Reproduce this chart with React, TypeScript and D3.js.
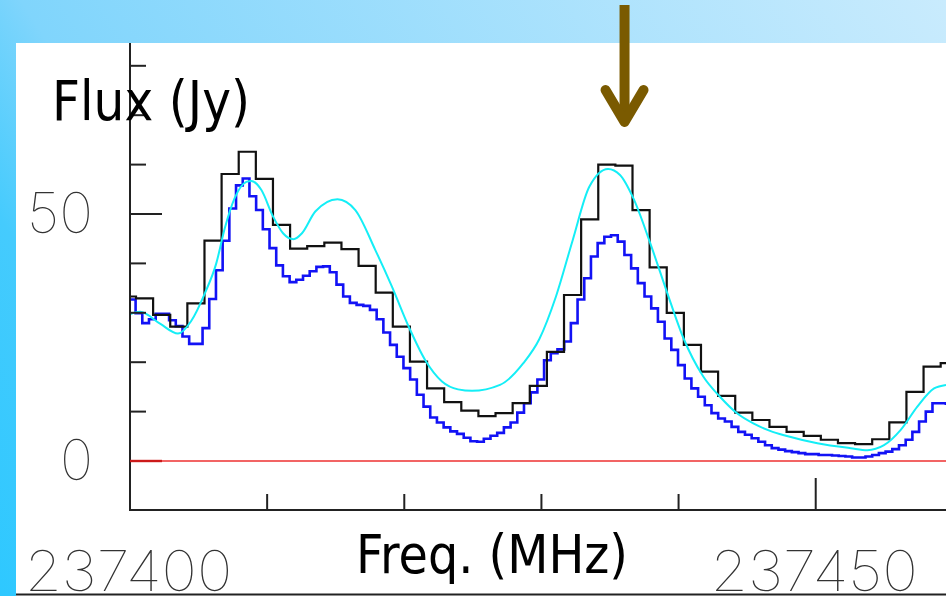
import React from 'react';
import * as d3 from 'd3';

const W = 946;
const H = 596;

// Coarse channels (black histogram): centre of first channel and width, MHz
const blackStart = 237399.813;
const blackWidth = 1.2484;
const blackFlux = [
  33.3, 32.9, 29.6, 27.2, 31.9, 44.6, 58.1, 62.6, 57.1, 47.8,
  43.0, 43.5, 44.2, 42.9, 39.5, 34.1, 27.2, 20.1, 14.7, 11.9,
  10.2, 9.1, 9.7, 11.7, 15.2, 22.1, 33.6, 48.9, 60.0, 59.8,
  50.8, 39.2, 30.0, 23.5, 18.1, 13.2, 9.8, 8.3, 6.9, 5.9,
  5.1, 4.3, 3.6, 3.4, 4.4, 7.8, 14.0, 19.1, 19.8,
];

// Fine channels (blue histogram)
const blueStart = 237400.164;
const blueWidth = 0.48828;
const blueFlux = [
  32.7, 29.9, 27.9, 28.7, 29.8, 29.8, 28.5, 27.3, 25.2, 23.7,
  23.7, 26.9, 32.8, 38.6, 44.6, 51.1, 55.8, 57.2, 53.6, 50.8,
  46.9, 43.1, 39.6, 37.4, 36.2, 36.7, 37.5, 38.4, 39.3, 39.4,
  38.2, 35.7, 33.3, 32.0, 31.6, 31.4, 30.6, 28.7, 26.0, 23.5,
  21.1, 18.8, 16.5, 13.4, 11.0, 8.8, 7.8, 6.8, 6.0, 5.5,
  4.7, 4.0, 3.9, 4.5, 5.1, 5.7, 6.8, 7.8, 9.8, 11.7,
  13.9, 16.5, 20.4, 21.8, 22.6, 24.2, 27.9, 32.7, 37.0, 41.4,
  44.1, 45.4, 45.7, 44.4, 41.7, 39.0, 36.0, 33.3, 30.9, 28.2,
  24.8, 22.5, 19.4, 16.7, 14.7, 13.0, 11.3, 9.7, 8.6, 8.0,
  6.9, 5.9, 5.3, 4.6, 3.9, 3.2, 2.6, 2.3, 2.0, 1.8,
  1.6, 1.4, 1.4, 1.2, 1.2, 1.1, 1.0, 0.9, 0.7, 0.7,
  0.9, 1.2, 1.6, 1.9, 2.4, 3.2, 4.3, 5.9, 8.0, 10.0,
  11.7, 11.7, 11.6,
];

// Smooth model spectrum (cyan)
const modelFreq = [
  237400.00, 237400.73, 237402.19, 237403.50, 237404.45, 237405.45, 237406.29,
  237406.91, 237407.63, 237408.48, 237408.85, 237409.57, 237410.43, 237411.16,
  237411.92, 237412.54, 237413.51, 237415.13, 237416.43, 237417.89, 237419.10,
  237420.32, 237421.53, 237422.75, 237423.92, 237424.94, 237426.98, 237428.68,
  237429.85, 237431.06, 237432.28, 237433.49, 237434.86, 237435.73, 237436.70,
  237437.92, 237439.14, 237440.35, 237441.80, 237443.02, 237444.24, 237445.45,
  237446.67, 237447.83, 237450.12, 237452.55, 237453.76, 237454.98, 237456.20,
  237457.41, 237458.63, 237459.50,
];
const modelFlux = [
  29.7, 30.2, 27.8, 25.8, 28.3, 33.9, 40.0,
  47.1, 53.2, 56.5, 56.7, 54.9, 49.5, 46.1,
  44.9, 46.1, 50.5, 53.0, 50.8, 42.7, 35.3,
  27.2, 20.4, 16.1, 14.5, 14.2, 15.4, 19.8,
  24.7, 33.3, 44.7, 55.5, 59.1, 57.9, 53.2,
  44.2, 34.3, 24.9, 17.1, 13.0, 9.7, 7.6,
  6.1, 5.1, 3.6, 2.6, 2.2, 3.2, 6.3,
  11.0, 14.7, 15.4,
];

const yTicks = [0, 10, 20, 30, 40, 50, 60, 70, 80];
const yMajor = [0, 50];
const xTicks = [237400, 237410, 237420, 237430, 237440, 237450];
const xMajor = [237400, 237450];

const plotLeft = 130;
const plotRight = 946;
const plotTop = 43;
const plotBottom = 510;

const x = d3.scaleLinear().domain([237400, 237459.5]).range([plotLeft, plotRight]);
const y = d3.scaleLinear().domain([0, 50]).range([461, 214]);

function stepPath(start: number, width: number, values: number[]): string {
  const pts: [number, number][] = values.map((v, i) => [start - width / 2 + i * width, v]);
  pts.push([start - width / 2 + values.length * width, values[values.length - 1]]);
  const line = d3
    .line<[number, number]>()
    .x((d) => x(d[0]))
    .y((d) => y(d[1]))
    .curve(d3.curveStepAfter);
  return line(pts) || '';
}

const modelLine = d3
  .line<number>()
  .x((_, i) => x(modelFreq[i]))
  .y((d) => y(d))
  .curve(d3.curveMonotoneX);

const numFont = 'Inter, Lato, "DejaVu Sans", sans-serif';
const titleFont = '"DejaVu Sans", Verdana, sans-serif';

// approximate rendered width of a numeric label (px per digit)
const digitAdvance = 34.6;

export default function App() {
  const arrowX = x(237436.06);
  return (
    <svg
      width={W}
      height={H}
      viewBox={`0 0 ${W} ${H}`}
      style={{ position: 'absolute', left: 0, top: 0, display: 'block' }}
    >
      <defs>
        <linearGradient id="bg" gradientUnits="userSpaceOnUse" x1={0} y1={H} x2={W} y2={0}>
          <stop offset="0" stopColor="#2ec8ff" />
          <stop offset="0.18" stopColor="#45cbfd" />
          <stop offset="0.3" stopColor="#80d5fc" />
          <stop offset="1" stopColor="#c9ebfd" />
        </linearGradient>
        <clipPath id="plotClip">
          <rect x={plotLeft} y={plotTop} width={plotRight - plotLeft} height={plotBottom - plotTop} />
        </clipPath>
      </defs>

      <rect x={0} y={0} width={W} height={H} fill="url(#bg)" />
      <rect x={16} y={43} width={W - 16} height={H - 43} fill="#ffffff" />
      <line x1={16} x2={W} y1={594.5} y2={594.5} stroke="#222" strokeWidth={2} />

      {/* zero level */}
      <line x1={plotLeft} x2={plotRight} y1={y(0)} y2={y(0)} stroke="#ee3030" strokeWidth={1.6} />

      {/* spectra */}
      <g clipPath="url(#plotClip)" fill="none">
        <path d={stepPath(blueStart, blueWidth, blueFlux)} stroke="#1212f5" strokeWidth={2.6} />
        <path d={stepPath(blackStart, blackWidth, blackFlux)} stroke="#111" strokeWidth={2.2} />
        <path d={modelLine(modelFlux) || ''} stroke="#14eef6" strokeWidth={2} />
      </g>

      {/* axes */}
      <line x1={plotLeft} x2={plotLeft} y1={plotTop} y2={plotBottom + 1} stroke="#222" strokeWidth={2} />
      <line x1={plotLeft} x2={plotRight} y1={plotBottom} y2={plotBottom} stroke="#222" strokeWidth={2} />
      {yTicks.map((t) => {
        const major = yMajor.includes(t);
        return (
          <line
            key={`yt${t}`}
            x1={plotLeft}
            x2={plotLeft + (major ? 32 : 16)}
            y1={y(t)}
            y2={y(t)}
            stroke={t === 0 ? '#cc1a1a' : '#222'}
            strokeWidth={t === 0 ? 2.4 : 2}
          />
        );
      })}
      {xTicks.map((t) => {
        const major = xMajor.includes(t);
        return (
          <line
            key={`xt${t}`}
            x1={x(t)}
            x2={x(t)}
            y1={plotBottom}
            y2={plotBottom - (major ? 32 : 16)}
            stroke="#222"
            strokeWidth={2}
          />
        );
      })}

      {/* tick labels */}
      {yMajor.map((t) => (
        <text
          key={`yl${t}`}
          x={93}
          y={y(t) + 19}
          textAnchor="end"
          fontFamily={numFont}
          fontWeight={100}
          fontSize={56}
          fill="#333"
          textLength={String(t).length * 33}
          lengthAdjust="spacingAndGlyphs"
        >
          {t}
        </text>
      ))}
      {xMajor.map((t) => (
        <text
          key={`xl${t}`}
          x={x(t) - 1.5}
          y={591}
          textAnchor="middle"
          fontFamily={numFont}
          fontWeight={100}
          fontSize={56}
          fill="#333"
          textLength={String(t).length * digitAdvance}
          lengthAdjust="spacingAndGlyphs"
        >
          {t}
        </text>
      ))}

      {/* axis titles */}
      <text x={52} y={120} fontFamily={titleFont} fontSize={55} fill="#000" textLength={198} lengthAdjust="spacingAndGlyphs">
        Flux (Jy)
      </text>
      <text x={356} y={573} fontFamily={titleFont} fontSize={52.6} fill="#000" textLength={272} lengthAdjust="spacingAndGlyphs">
        Freq. (MHz)
      </text>

      {/* marker arrow */}
      <g stroke="#7a5a00" strokeWidth={10} strokeLinecap="round" strokeLinejoin="round" fill="none">
        <line x1={arrowX} x2={arrowX} y1={5} y2={118} strokeLinecap="butt" />
        <polyline points={`${arrowX - 19},${90} ${arrowX},${122} ${arrowX + 19},${90}`} />
      </g>
    </svg>
  );
}
